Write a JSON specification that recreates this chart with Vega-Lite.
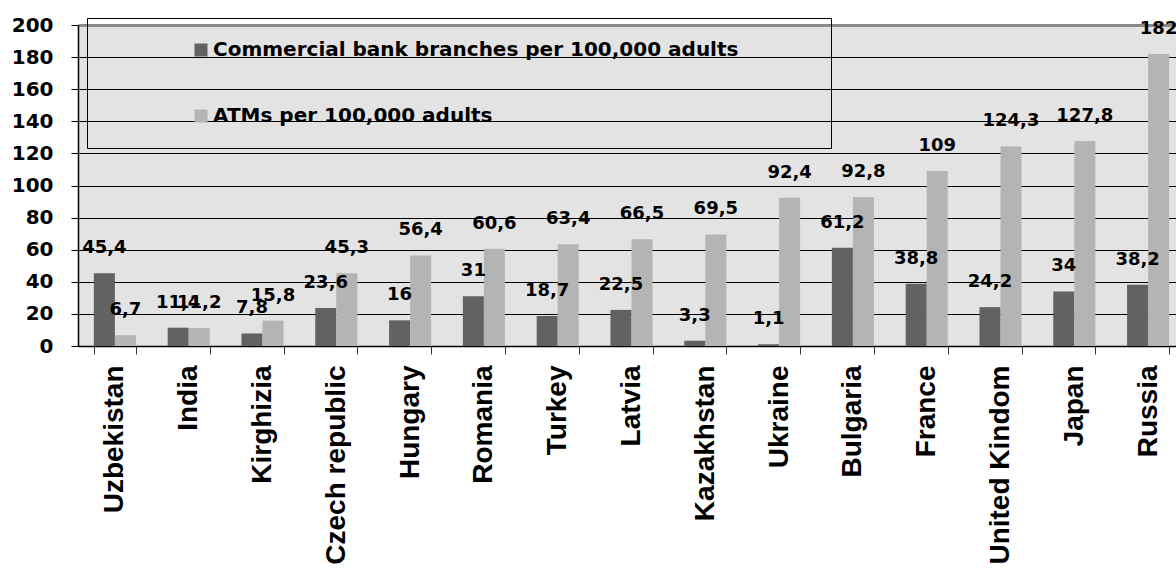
{
  "$schema": "https://vega.github.io/schema/vega-lite/v6.json",
  "autosize": {"type": "none"},
  "padding": {"left": 78, "top": 25, "right": 0, "bottom": 222},
  "width": 1107,
  "height": 321,
  "background": "white",
  "config": {
    "view": {"fill": "#e3e3e3", "stroke": null},
    "locale": {"number": {"decimal": ",", "thousands": " ", "grouping": [3], "currency": ["", ""]}},
    "font": "DejaVu Sans"
  },
  "data": {
    "values": [
      {"country": "Uzbekistan", "series": "Commercial bank branches per 100,000 adults", "value": 45.4},
      {"country": "Uzbekistan", "series": "ATMs per 100,000 adults", "value": 6.7},
      {"country": "India", "series": "Commercial bank branches per 100,000 adults", "value": 11.4},
      {"country": "India", "series": "ATMs per 100,000 adults", "value": 11.2},
      {"country": "Kirghizia", "series": "Commercial bank branches per 100,000 adults", "value": 7.8},
      {"country": "Kirghizia", "series": "ATMs per 100,000 adults", "value": 15.8},
      {"country": "Czech republic", "series": "Commercial bank branches per 100,000 adults", "value": 23.6},
      {"country": "Czech republic", "series": "ATMs per 100,000 adults", "value": 45.3},
      {"country": "Hungary", "series": "Commercial bank branches per 100,000 adults", "value": 16},
      {"country": "Hungary", "series": "ATMs per 100,000 adults", "value": 56.4},
      {"country": "Romania", "series": "Commercial bank branches per 100,000 adults", "value": 31},
      {"country": "Romania", "series": "ATMs per 100,000 adults", "value": 60.6},
      {"country": "Turkey", "series": "Commercial bank branches per 100,000 adults", "value": 18.7},
      {"country": "Turkey", "series": "ATMs per 100,000 adults", "value": 63.4},
      {"country": "Latvia", "series": "Commercial bank branches per 100,000 adults", "value": 22.5},
      {"country": "Latvia", "series": "ATMs per 100,000 adults", "value": 66.5},
      {"country": "Kazakhstan", "series": "Commercial bank branches per 100,000 adults", "value": 3.3},
      {"country": "Kazakhstan", "series": "ATMs per 100,000 adults", "value": 69.5},
      {"country": "Ukraine", "series": "Commercial bank branches per 100,000 adults", "value": 1.1},
      {"country": "Ukraine", "series": "ATMs per 100,000 adults", "value": 92.4},
      {"country": "Bulgaria", "series": "Commercial bank branches per 100,000 adults", "value": 61.2},
      {"country": "Bulgaria", "series": "ATMs per 100,000 adults", "value": 92.8},
      {"country": "France", "series": "Commercial bank branches per 100,000 adults", "value": 38.8},
      {"country": "France", "series": "ATMs per 100,000 adults", "value": 109},
      {"country": "United Kindom", "series": "Commercial bank branches per 100,000 adults", "value": 24.2},
      {"country": "United Kindom", "series": "ATMs per 100,000 adults", "value": 124.3},
      {"country": "Japan", "series": "Commercial bank branches per 100,000 adults", "value": 34},
      {"country": "Japan", "series": "ATMs per 100,000 adults", "value": 127.8},
      {"country": "Russia", "series": "Commercial bank branches per 100,000 adults", "value": 38.2},
      {"country": "Russia", "series": "ATMs per 100,000 adults", "value": 182}
    ]
  },
  "encoding": {
    "x": {
      "field": "country",
      "type": "nominal",
      "sort": null,
      "scale": {"paddingInner": 0.43, "paddingOuter": 0.215},
      "axis": {
        "title": null,
        "labelAngle": -90,
        "labelFont": "Liberation Sans",
        "labelFontWeight": "bold",
        "labelFontSize": 28,
        "labelColor": "black",
        "labelPadding": 11,
        "labelLimit": 400,
        "tickBand": "extent",
        "tickSize": 8,
        "tickColor": "#333333",
        "domainColor": "black",
        "domainWidth": 1.5
      }
    },
    "xOffset": {
      "field": "series",
      "type": "nominal",
      "sort": ["Commercial bank branches per 100,000 adults", "ATMs per 100,000 adults"],
      "scale": {"paddingInner": 0, "paddingOuter": 0}
    },
    "y": {
      "field": "value",
      "type": "quantitative",
      "scale": {"domain": [0, 200], "nice": false},
      "axis": {
        "title": null,
        "values": [0, 20, 40, 60, 80, 100, 120, 140, 160, 180, 200],
        "labelFont": "DejaVu Sans",
        "labelFontWeight": "bold",
        "labelFontSize": 20,
        "labelColor": "black",
        "labelPadding": 18,
        "tickSize": 7,
        "tickColor": "black",
        "domainColor": "black",
        "domainWidth": 1.5,
        "grid": true,
        "gridColor": {"expr": "datum.value == 200 ? '#8a8a8a' : 'black'"},
        "gridWidth": {"expr": "datum.value == 200 ? 3 : 1"}
      }
    }
  },
  "layer": [
    {
      "mark": {"type": "bar"},
      "encoding": {
        "color": {
          "field": "series",
          "type": "nominal",
          "sort": ["Commercial bank branches per 100,000 adults", "ATMs per 100,000 adults"],
          "scale": {"range": ["#626262", "#b4b4b4"]},
          "legend": {
            "orient": "none",
            "legendX": 9,
            "legendY": -7,
            "title": " ",
            "titleOrient": "left",
            "titleFontSize": 20,
            "titlePadding": 82,
            "padding": 22,
            "strokeColor": "black",
            "symbolType": "square",
            "symbolSize": 169,
            "symbolStrokeWidth": 0,
            "labelFont": "DejaVu Sans",
            "labelFontWeight": "bold",
            "labelFontSize": 20,
            "labelColor": "black",
            "labelLimit": 1000,
            "labelOffset": 2,
            "rowPadding": 46,
            "labelExpr": "datum.label + '\u00a0\u00a0\u00a0\u00a0\u00a0\u00a0\u00a0\u00a0\u00a0\u00a0\u200b'"
          }
        }
      }
    },
    {
      "mark": {
        "type": "text",
        "baseline": "middle",
        "align": "center",
        "dy": -25,
        "font": "DejaVu Sans",
        "fontWeight": "bold",
        "fontSize": 18,
        "color": "black"
      },
      "encoding": {
        "text": {"field": "value", "type": "quantitative", "format": ".1~f"}
      }
    }
  ]
}
